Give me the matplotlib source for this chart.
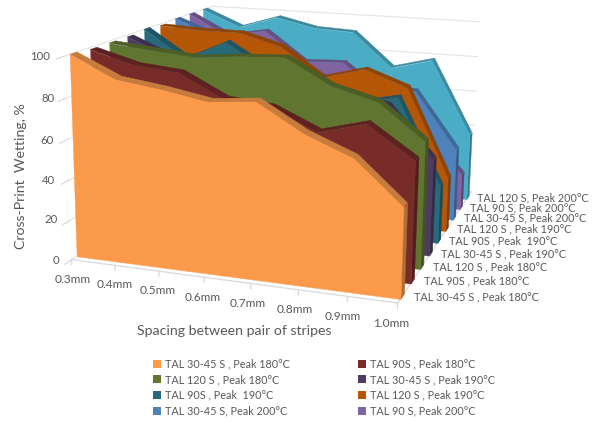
import matplotlib
matplotlib.use('Agg')
import matplotlib.pyplot as plt
from matplotlib.patches import Rectangle
from mpl_toolkits.mplot3d import proj3d
from mpl_toolkits.mplot3d.art3d import Poly3DCollection

spacing = ['0.3mm', '0.4mm', '0.5mm', '0.6mm', '0.7mm', '0.8mm', '0.9mm', '1.0mm']
wetting_ticks = [0, 20, 40, 60, 80, 100]

tal30_180 = [100, 90, 87, 83, 85, 72, 63, 43]
tal90_180 = [99, 93, 91, 80, 78, 68, 74, 59]
tal120_180 = [99, 97, 95, 97, 98, 86, 80, 63]
tal30_190 = [99, 90, 88, 87, 83, 80, 74, 49]
tal90_190 = [100, 86, 96, 83, 77, 69, 74, 30]
tal120_190 = [99, 98, 98, 92, 77, 83, 75, 29]
tal30_200 = [100, 92, 85, 77, 72, 71, 69, 39]
tal90_200 = [100, 89, 93, 77, 78, 61, 43, 20]
tal120_200 = [100, 91, 98, 93, 92, 73, 79, 38]

series = [tal30_180, tal90_180, tal120_180, tal30_190, tal90_190,
          tal120_190, tal30_200, tal90_200, tal120_200]
names = ['TAL 30-45 S , Peak 180°C', 'TAL 90S , Peak 180°C', 'TAL 120 S , Peak 180°C',
         'TAL 30-45 S , Peak 190°C', 'TAL 90S , Peak  190°C', 'TAL 120 S , Peak 190°C',
         'TAL 30-45 S, Peak 200°C', 'TAL 90 S, Peak 200°C', 'TAL 120 S, Peak 200°C']
faces = ['#FB9A4B', '#772C2A', '#5F7530', '#4D3B62', '#276A7C',
         '#B65708', '#4F81BD', '#8064A2', '#4BACC6']
tops = ['#C67C3C', '#5C2120', '#4C5E26', '#3D2F4E', '#1F5563',
        '#8F4506', '#3F6797', '#665082', '#3C899E']
caps = ['#B06E35', '#521D1C', '#445422', '#362A45', '#1B4B58',
        '#7F3D05', '#385B86', '#5A4773', '#357A8C']

text_grey = '#595959'
grid_grey = '#E6E6E6'
plt.rcParams['font.family'] = 'Lato'

fig = plt.figure(figsize=(5.95, 4.21), dpi=100)
ax = fig.add_subplot(111, projection='3d', computed_zorder=False)
n = len(spacing) - 1
depth = len(series)
ax.set_xlim(0, n)
ax.set_ylim(0, depth)
ax.set_zlim(0, 100)
ax.view_init(elev=13.88, azim=-71.61, roll=-0.62)
ax.set_proj_type('persp', focal_length=0.371)
ax.set_box_aspect((1.62, 1.82, 1), zoom=0.82)
ax.set_position([-0.0247, -0.0386, 1, 595 / 421])
ax.set_axis_off()


def label_at(x, y, z, s, **kw):
    # flat text anchored on a projected 3D point
    xp, yp, _ = proj3d.proj_transform(x, y, z, ax.get_proj())
    ax.text2D(xp, yp, s, transform=ax.transData, color=text_grey, zorder=60, **kw)


# walls and floor edges
ytick_right = [59, 58, 55, 54, 55, 50]
ytick_y = [260, 220, 181, 140, 98, 57]
for z, tx, ty in zip(wetting_ticks, ytick_right, ytick_y):
    ax.plot([0, 0], [0, depth], [z, z], color=grid_grey, lw=0.9, zorder=1)
    ax.plot([0, n], [depth, depth], [z, z], color=grid_grey, lw=0.9, zorder=1)
    ax.plot([0, 0], [-0.35, 0], [z, z], color='#D9D9D9', lw=0.9, zorder=1)
    fig.text(tx / 595, 1 - ty / 421, str(z), ha='right', va='center', fontsize=8.2, color=text_grey)
ax.plot([0, n], [0, 0], [0, 0], color='#D9D9D9', lw=0.9, zorder=1)
ax.plot([n, n], [0, depth], [0, 0], color='#D9D9D9', lw=0.9, zorder=1)

for j, label in enumerate(spacing):
    ax.plot([j, j], [0, 0], [0, -2.5], color='#D9D9D9', lw=0.9, zorder=1)
    label_at(j * 0.985, 0, -10, label, ha='center', va='center', fontsize=8.6)

# each series is a slab: top strip, end cap, then the front face
for i in range(depth - 1, -1, -1):
    v = series[i]
    yf, yb = i + 0.25, i + 0.6
    base = 10 + 3 * (depth - i)
    strip = [[(j, yf, v[j]), (j + 1, yf, v[j + 1]), (j + 1, yb, v[j + 1]), (j, yb, v[j])]
             for j in range(n)]
    ax.add_collection3d(Poly3DCollection(strip, facecolors=tops[i], edgecolors=tops[i],
                                         linewidths=0.3, zorder=base))
    cap = [[(n, yf, 0), (n, yb, 0), (n, yb, v[n]), (n, yf, v[n])]]
    ax.add_collection3d(Poly3DCollection(cap, facecolors=caps[i], edgecolors=caps[i],
                                         linewidths=0.3, zorder=base + 1))
    front = [[(0, yf, 0), (n, yf, 0)] + [(j, yf, v[j]) for j in range(n, -1, -1)]]
    ax.add_collection3d(Poly3DCollection(front, facecolors=faces[i], edgecolors=faces[i],
                                         linewidths=0.3, zorder=base + 2))
    label_at(n + 0.22, i + 0.5, 0, names[i], ha='left', va='center', fontsize=7.85)

fig.text(21 / 595, 1 - 176 / 421, 'Cross-Print  Wetting, %', rotation=90, ha='center', va='center',
         fontsize=10.2, color=text_grey)
fig.text(234 / 595, 1 - 331 / 421, 'Spacing between pair of stripes', ha='center', va='center',
         fontsize=10.2, color=text_grey)

handles = [Rectangle((0, 0), 1, 1, facecolor=faces[i]) for i in range(8)]
order = [0, 2, 4, 6, 1, 3, 5, 7]
fig.legend([handles[k] for k in order], [names[k] for k in order], ncols=2,
           loc='upper left', bbox_to_anchor=(153 / 595, 1 - 358.5 / 421), frameon=False,
           fontsize=7.85, labelcolor=text_grey, handlelength=0.75, handleheight=0.75,
           handletextpad=0.35, labelspacing=0.43, columnspacing=6.25, borderpad=0, borderaxespad=0)

fig.savefig('out.png', dpi=100)
